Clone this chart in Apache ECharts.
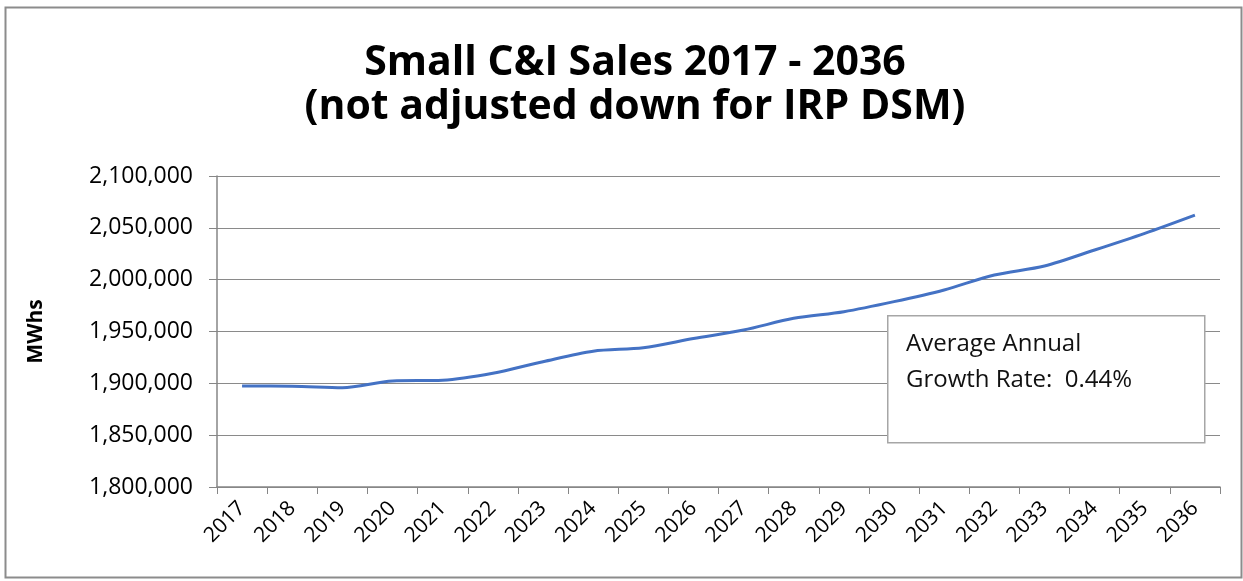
<!DOCTYPE html>
<html>
<head>
<meta charset="utf-8">
<script src="https://cdn.jsdelivr.net/npm/echarts@6/dist/echarts.min.js"></script>
<style>
html,body{margin:0;padding:0;background:#fff;}
#chart{width:1243px;height:581px;}
</style>
</head>
<body>
<div id="chart"></div>
<script>
const years = ['2017','2018','2019','2020','2021','2022','2023','2024','2025','2026','2027','2028','2029','2030','2031','2032','2033','2034','2035','2036'];
const sales = [1897400,1897300,1895800,1902300,1903000,1909700,1920900,1931000,1934400,1943200,1951400,1962700,1969100,1978800,1990100,2004500,2013200,2028600,2044700,2062300];
const yTicks = {min:1800000, max:2100000, interval:50000};
const titleLines = ['Small C&I Sales 2017 - 2036','(not adjusted down for IRP DSM)'];
const noteLines = ['Average Annual','Growth Rate:  0.44%'];

const chart = echarts.init(document.getElementById('chart'));
const font = 'Open Sans, Noto Sans, sans-serif';
chart.setOption({
  animation:false,
  backgroundColor:'#fff',
  title:{
    text:titleLines.join('\n'),
    top:36, left:630, textAlign:'center',
    textStyle:{fontFamily:font, fontSize:41, fontWeight:'bold', color:'#000', lineHeight:44}
  },
  grid:{left:217, right:23, top:176, bottom:94},
  xAxis:{
    type:'category', data:years, boundaryGap:true,
    axisLine:{lineStyle:{color:'#868686', width:1.5}},
    axisTick:{show:true, length:7, lineStyle:{color:'#868686'}},
    axisLabel:{rotate:45, fontFamily:font, fontSize:21, color:'#000', margin:18, interval:0}
  },
  yAxis:{
    type:'value', min:yTicks.min, max:yTicks.max, interval:yTicks.interval,
    name:'MWhs', nameLocation:'middle', nameGap:170, nameRotate:90,
    nameTextStyle:{fontFamily:font, fontSize:21, fontWeight:'bold', color:'#000'},
    axisLine:{show:true, lineStyle:{color:'#868686', width:1.5}},
    axisTick:{show:true, length:8, inside:false, lineStyle:{color:'#868686'}},
    splitLine:{lineStyle:{color:'#8a8a8a', width:1.2}},
    axisLabel:{fontFamily:font, fontSize:23, color:'#000', margin:24,
      formatter:v=>v.toLocaleString('en-US')}
  },
  series:[{
    type:'line', data:sales, smooth:0.3, symbol:'none',
    lineStyle:{color:'#4472C4', width:3}
  }],
  graphic:[
    {type:'rect', left:3, top:5, shape:{width:1236, height:570},
     style:{fill:'none', stroke:'#8c8c8c', lineWidth:2}, silent:true},
    {type:'rect', left:887, top:315, shape:{width:317, height:127},
     style:{fill:'#fff', stroke:'#a6a6a6', lineWidth:1.5}, z:10},
    {type:'text', left:906, top:326, z:11,
     style:{text:noteLines.join('\n'), fontFamily:font, fontSize:24, lineHeight:36, fill:'#111'}}
  ]
});
</script>
</body>
</html>
